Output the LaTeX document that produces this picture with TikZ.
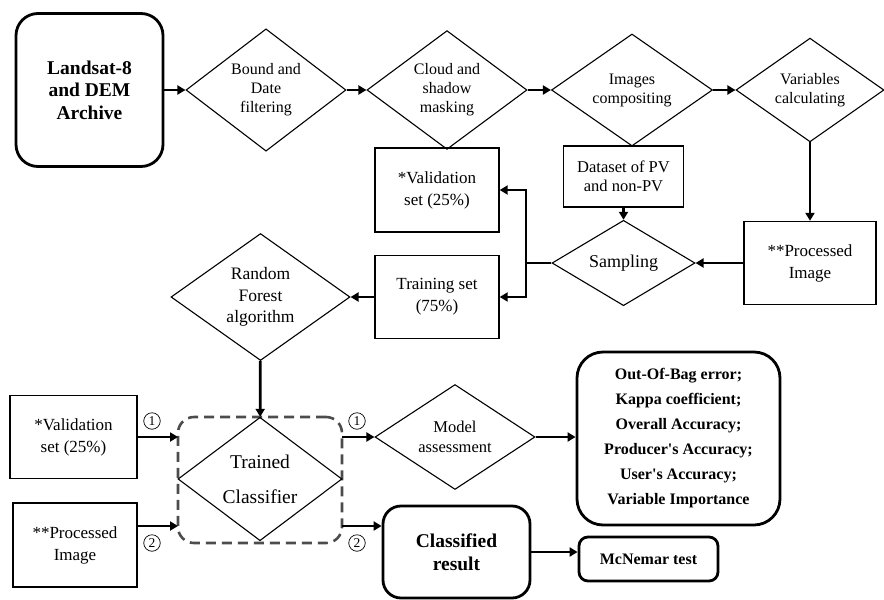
\documentclass[tikz,border=0pt]{standalone}
\usepackage{fontspec}
\setmainfont{Liberation Serif}
\usetikzlibrary{shapes.geometric,arrows.meta}
\newcommand{\setsz}[2]{\fontsize{#1}{#2}\selectfont}

\begin{document}
\begin{tikzpicture}
[x=1pt,y=-1pt,
 every node/.style={align=center, inner sep=0pt},
 dia/.style={diamond, draw=black, line width=1.1pt},
 box/.style={rectangle, draw=black, line width=1.4pt, font=\setsz{17}{22}},
 rbox/.style={rectangle, draw=black, line width=2.8pt, rounded corners=#1},
 link/.style={line width=2.8pt, -{Triangle[length=8pt,width=9pt]}},
 num/.style={circle, draw=black, line width=.7pt, minimum size=16.5pt, font=\setsz{13.5}{13.5}}]
\useasboundingbox (0,0) rectangle (884,600);

% top row
\node[rbox=22pt, minimum width=147pt, minimum height=153pt, font=\bfseries\setsz{19.5}{22.5}] (src) at (89.5,90) {Landsat-8\\and DEM\\Archive};
\foreach \i/\x/\w/\t in {1/266/160/{Bound and\\Date\\filtering}, 2/447/160/{Cloud and\\shadow\\masking}, 3/632/161/{Images\\compositing}, 4/810/148/{Variables\\calculating}}
{
  \node[dia, minimum width=\w pt, minimum height=97pt, font=\setsz{16}{19}] (d\i) at (\x,90) {\t};
}
\draw[link] (src) -- (d1);
\draw[link] (d1) -- (d2);
\draw[link] (d2) -- (d3);
\draw[link] (d3) -- (d4);

% sampling
\node[box, minimum width=132pt, minimum height=83pt] (img1) at (810,263) {**Processed\\Image};
\node[dia, minimum width=143pt, minimum height=83pt, font=\setsz{18}{20}] (samp) at (623.5,263) {Sampling};
\node[box, minimum width=120pt, minimum height=61pt, font=\setsz{16.5}{18.5}] (data) at (623.5,176.5) {Dataset of PV\\and non-PV};
\node[box, minimum width=124pt, minimum height=84pt] (val1) at (437,190) {*Validation\\set (25\%)};
\node[box, minimum width=124pt, minimum height=83pt] (train) at (437,297) {Training set\\(75\%)};
\node[dia, minimum width=179pt, minimum height=107pt, font=\setsz{17.5}{21.5}] (rf) at (260.5,297) {Random\\Forest\\algorithm};
\coordinate (split) at (526,263);
\draw[link] (d4) -- (img1);
\draw[link] (img1) -- (samp);
\draw[link] (data) -- (samp);
\draw[link] (samp) -- (split) |- (val1);
\draw[link] (split) |- (train);
\draw[link] (train) -- (rf);

% classification
\node[rectangle, draw=black!70, line width=2.6pt, dash pattern=on 10pt off 6pt, rounded corners=16pt, minimum width=164pt, minimum height=126pt] (frame) at (260,480) {};
\node[dia, minimum width=164pt, minimum height=118pt, font=\setsz{19.5}{35}] (tc) at (260,479) {Trained\\Classifier};
\draw[link] (rf) -- (tc);
\node[box, minimum width=127pt, minimum height=83pt] (val2) at (73.5,437) {*Validation\\set (25\%)};
\node[box, minimum width=124pt, minimum height=84pt] (img2) at (75,545) {**Processed\\Image};
\coordinate (in1) at (178,437);
\coordinate (in2) at (178,526);
\coordinate (out1) at (342,437);
\coordinate (out2) at (342,526);
\draw[link] (val2) -- (in1);
\draw[link] (img2.east |- in2) -- (in2);
\node[num] (n1) at (152,421) {1};
\node[num] (n2) at (152,543) {2};
\node[num] (n3) at (357,421) {1};
\node[num] (n4) at (357,543) {2};

% results
\node[dia, minimum width=160pt, minimum height=96pt, font=\setsz{16.5}{20}] (ma) at (455,437) {Model\\assessment};
\node[rbox=26pt, minimum width=203pt, minimum height=173pt, font=\bfseries\setsz{16}{25}] (metr) at (678.5,438.5) {Out-Of-Bag error;\\Kappa coefficient;\\Overall Accuracy;\\Producer\textquotesingle s Accuracy;\\User\textquotesingle s Accuracy;\\Variable Importance};
\node[rbox=18pt, minimum width=147pt, minimum height=92pt, font=\bfseries\setsz{19.5}{23.5}] (cr) at (456.5,552) {Classified\\result};
\node[rbox=9pt, minimum width=139pt, minimum height=44pt, font=\bfseries\setsz{16}{18}] (mc) at (648.5,559) {McNemar test};
\draw[link] (out1) -- (ma);
\draw[link] (out2) -- (cr.west |- out2);
\draw[link] (ma) -- (metr.west |- ma);
\draw[link] (cr.east) -- (cr.east -| mc.west);
\end{tikzpicture}
\end{document}
